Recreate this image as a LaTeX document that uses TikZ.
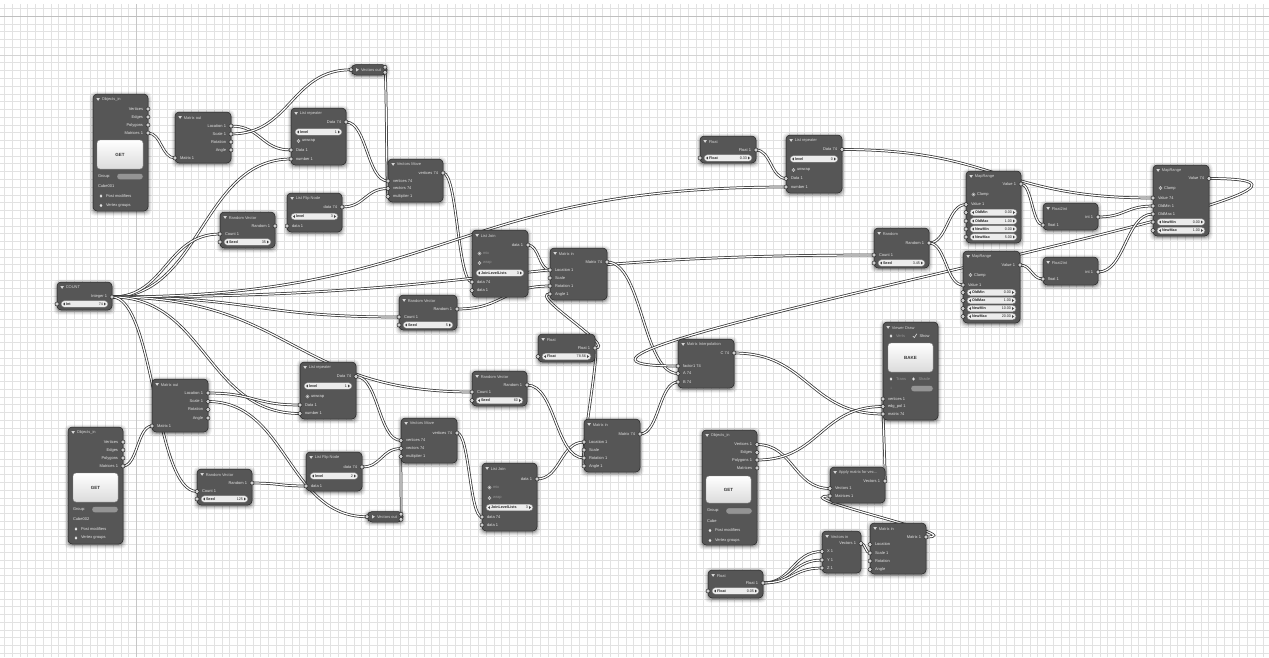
\documentclass[tikz,border=0pt]{standalone}
\usepackage{fontspec}
\setmainfont{Liberation Sans}
\usetikzlibrary{calc}
\definecolor{nodebg}{RGB}{86,86,86}
\definecolor{labelc}{RGB}{228,228,228}
\definecolor{titlec}{RGB}{212,212,212}
\definecolor{dimc}{RGB}{150,150,150}
\definecolor{pillc}{RGB}{236,236,236}
\definecolor{sockc}{RGB}{205,205,205}
\definecolor{gridc}{RGB}{226,226,226}
\pgfdeclarelayer{bg}\pgfdeclarelayer{lk}\pgfsetlayers{bg,lk,main}
\newcounter{tn}
\tikzset{
 nbody/.style={fill=nodebg,draw=black!85,line width=0.5pt,rounded corners=4pt,inner sep=0pt,outer sep=0pt},
 lbl/.style={text=labelc,font=\fontsize{4}{4.8}\selectfont,inner sep=0pt,outer sep=0pt},
 ttl/.style={lbl,text=titlec},
 dimlbl/.style={lbl,text=dimc},
 flab/.style={text=black!85,font=\fontsize{3.7}{4.4}\selectfont\bfseries,inner sep=0pt,outer sep=0pt},
 fval/.style={text=black!85,font=\fontsize{3.7}{4.4}\selectfont,inner sep=0pt,outer sep=0pt},
 pill/.style={fill=pillc,draw=black!60,line width=0.4pt,rounded corners=3.2pt},
 sock/.style={fill=sockc,draw=black!85,line width=0.5pt},
 link/.style={draw=black!80,line width=0.75pt,double=white,double distance=1.2pt},
 btn/.style={top color=white,bottom color=black!14,draw=black!45,line width=0.4pt,rounded corners=3pt},
 btntxt/.style={text=black!80,font=\fontsize{4.5}{5}\selectfont\bfseries,inner sep=0pt,outer sep=0pt},
 gfield/.style={fill=black!42,draw=black!70,line width=0.3pt,rounded corners=2.5pt},
 gridl/.style={draw=gridc,line width=0.5pt},
}
\newcommand\tx[5][lbl]{\stepcounter{tn}\node[#1,anchor=#2] (t\arabic{tn}) at ({#3},{#4}) {#5};}
\newcommand\sockat[2]{\filldraw[sock] ({#1},{#2}) circle (2pt);}
\newcommand\nodebox[6]{%
 \foreach \k/\o in {3.5/0.06,2.5/0.08,1.5/0.11,0.7/0.14}{%
   \fill[black,opacity=\o,rounded corners=5pt] ({#2-\k},{#3-\k+1.2}) rectangle ({#2+#4+\k},{#3+#5+\k+1.2});}
 \node[nbody,minimum width=#4pt,minimum height=#5pt,anchor=north west] (#1) at (#2,#3) {};
 \fill[titlec] ({#2+3.3},{#3+4}) -- ({#2+6.9},{#3+4}) -- ({#2+5.1},{#3+6.9}) -- cycle;
 \tx[ttl]{west}{#2+8.8}{#3+5.6}{#6}}
\newcommand\colnode[9]{%
 \foreach \k/\o in {3/0.06,2/0.08,1.2/0.11,0.5/0.14}{%
   \fill[black,opacity=\o,rounded corners=5pt] ({#2-\k},{#3-\k+1}) rectangle ({#2+#4+\k},{#3+#5+\k+1});}
 \node[nbody,rounded corners=5pt,minimum width=#4pt,minimum height=#5pt,anchor=north west] (#1) at (#2,#3) {};
 \fill[titlec] ({#2+5},{#3+#5/2-1.8}) -- ({#2+5},{#3+#5/2+1.8}) -- ({#2+7.8},{#3+#5/2}) -- cycle;
 \tx[ttl]{west}{#2+10}{#3+#5/2}{#6}
 \coordinate (#7) at ({#2},{#3+#5/2});
 \coordinate (#8) at ({#2+#4-2},{#3+#5/2-2.6});
 \coordinate (#9) at ({#2+#4-2},{#3+#5/2+2.6});
 \sockat{#2}{#3+#5/2}\sockat{#2+#4-2}{#3+#5/2-2.6}\sockat{#2+#4-2}{#3+#5/2+2.6}}
\newcommand\outrow[4]{\coordinate (#1) at (#2,#3); \tx{east}{#2-5}{#3}{#4}\sockat{#2}{#3}}
\newcommand\inrow[4]{\coordinate (#1) at (#2,#3); \tx{west}{#2+5}{#3}{#4}\sockat{#2}{#3}}
\newcommand\fieldbase[5]{%
 \draw[pill] ({#1+4},{#3-3.3}) rectangle ({#2-4},{#3+3.3});
 \fill[black!75] ({#1+6},{#3}) -- ({#1+7.8},{#3-1.3}) -- ({#1+7.8},{#3+1.3}) -- cycle;
 \fill[black!75] ({#2-6},{#3}) -- ({#2-7.8},{#3-1.3}) -- ({#2-7.8},{#3+1.3}) -- cycle;
 \tx[flab]{west}{#1+9}{#3}{#4}
 \tx[fval]{east}{#2-9}{#3}{#5}}
\newcommand\fieldrow[6]{\coordinate (#1) at (#2,#4); \fieldbase{#2}{#3}{#4}{#5}{#6}\sockat{#2}{#4}}
\newcommand\fieldnos[5]{\fieldbase{#1}{#2}{#3}{#4}{#5}}
\newcommand\chkrow[4][lbl]{%
 \filldraw[fill=black!70,draw=labelc,line width=0.35pt] ({#2+7.5},{#3}) circle (1.7pt);
 \fill[labelc] ({#2+7.5},{#3}) circle (0.6pt);
 \tx[#1]{west}{#2+11}{#3}{#4}}
\newcommand\btnbox[5]{\draw[btn] (#1,#2) rectangle (#3,#4); \tx[btntxt]{center}{(#1+#3)/2}{(#2+#4)/2}{#5}}
\newcommand\grouprow[3]{\tx{west}{#1+5}{#3}{Group:}\draw[gfield] ({#1+24},{#3-3}) rectangle ({#2-5},{#3+3});}
\newcommand\ptxt[3]{\tx{west}{#1}{#2}{#3}}
\newcommand\dia[2]{\fill[labelc] ({#1-1.4},{#2}) -- ({#1},{#2-1.6}) -- ({#1+1.4},{#2}) -- ({#1},{#2+1.6}) -- cycle;}
\newcommand\eyerow[3]{\dia{#1+8}{#2}\tx{west}{#1+13}{#2}{#3}}
\newcommand\wire[2]{\draw[link] let \p1=(#1), \p2=(#2), \n1={max(0.5*abs(\x2-\x1),0.5)} in (\p1) .. controls ({\x1+\n1*1pt},{\y1}) and ({\x2-\n1*1pt},{\y2}) .. (\p2);}

\begin{document}
\begin{tikzpicture}[x=1pt,y=-1pt]
\useasboundingbox (0,0) rectangle (1269,657);
\begin{pgfonlayer}{bg}
\fill[white] (0,0) rectangle (1269,657);
\foreach \i in {0,...,163} {\draw[gridl] ({4.3+\i*7.77},4) -- ({4.3+\i*7.77},657);}
\foreach \j in {0,...,83} {\draw[gridl] (0,{8.3+\j*7.77}) -- (1269,{8.3+\j*7.77});}
\draw[black!22,line width=0.6pt] (136.4,4) -- (136.4,657);
\draw[black!25,line width=0.6pt] (0,16.1) -- (1269,16.1);
\draw[black!17,line width=0.6pt] (0,54.9) -- (1269,54.9);
\end{pgfonlayer}

% ---------- top-left group ----------
\nodebox{ob1}{93}{94}{55}{117}{Objects\_in}
\outrow{ob1v}{148}{109}{Vertices}
\outrow{ob1e}{148}{117}{Edges}
\outrow{ob1p}{148}{125}{Polygons}
\outrow{ob1m}{148}{133}{Matrices 1}
\btnbox{97}{140}{143}{169}{GET}
\grouprow{93}{148}{176.5}
\ptxt{98}{186}{Cube001}
\eyerow{93}{196}{Post modifiers}
\eyerow{93}{205.5}{Vertex groups}

\nodebox{mo1}{175}{112}{56}{51}{Matrix out}
\outrow{mo1l}{231}{126}{Location 1}
\outrow{mo1s}{231}{134}{Scale 1}
\outrow{mo1r}{231}{142}{Rotation}
\outrow{mo1a}{231}{150}{Angle}
\inrow{mo1in}{175}{158}{Matrix 1}

\nodebox{lr1}{291}{108}{55}{57}{List repeater}
\outrow{lr1o}{346}{122}{Data 74}
\fieldnos{291}{346}{132}{level}{1}
\chkrow{291}{141}{unwrap}
\inrow{lr1d}{291}{150}{Data 1}
\inrow{lr1n}{291}{159}{number 1}

\colnode{vo1}{351}{64.5}{36}{10.5}{Vectors out}{vo1i}{vo1o}{vo1p}

\nodebox{vm1}{388}{159}{55}{43}{Vectors Move}
\outrow{vm1o}{443}{173}{vertices 74}
\inrow{vm1v}{388}{181}{vertices 74}
\inrow{vm1d}{388}{188.5}{vectors 74}
\inrow{vm1m}{388}{196.5}{multiplier 1}

\nodebox{lf1}{287}{193}{55}{39}{List Flip Node}
\outrow{lf1o}{342}{207}{data 74}
\fieldnos{287}{342}{216.5}{level}{3}
\inrow{lf1i}{287}{226}{data 1}

\nodebox{rv1}{220}{212}{55}{36}{Random Vector}
\outrow{rv1o}{275}{226}{Random 1}
\inrow{rv1c}{220}{234}{Count 1}
\fieldrow{rv1s}{220}{275}{242}{Seed}{35}

\nodebox{cnt}{57}{282}{55}{28}{COUNT}
\outrow{cnto}{112}{297}{Integer 1}
\fieldrow{cnti}{57}{112}{304}{Int}{74}

% ---------- middle ----------
\nodebox{lj1}{472}{230}{56}{67}{List Join}
\outrow{lj1o}{528}{245}{data 1}
\chkrow[dimlbl]{472}{253.5}{mix}
\chkrow[dimlbl]{472}{263}{wrap}
\fieldnos{472}{528}{273}{JoinLevelLists}{3}
\inrow{lj1a}{472}{282}{data 74}
\inrow{lj1b}{472}{290.5}{data 1}

\nodebox{mi1}{550}{248}{57}{52}{Matrix in}
\outrow{mi1o}{607}{262}{Matrix 74}
\inrow{mi1l}{550}{270}{Location 1}
\inrow{mi1s}{550}{278}{Scale}
\inrow{mi1r}{550}{286}{Rotation 1}
\inrow{mi1a}{550}{294}{Angle 1}

\nodebox{rv2}{399}{295}{58}{35}{Random Vector}
\outrow{rv2o}{457}{309}{Random 1}
\inrow{rv2c}{399}{317}{Count 1}
\fieldrow{rv2s}{399}{457}{325}{Seed}{5}

\nodebox{fl1}{538}{334}{57}{28}{Float}
\outrow{fl1o}{595}{348}{Float 1}
\fieldrow{fl1i}{538}{595}{356.5}{Float}{78.56}

\nodebox{rv3}{472}{371}{55}{35}{Random Vector}
\outrow{rv3o}{527}{385}{Random 1}
\inrow{rv3c}{472}{392}{Count 1}
\fieldrow{rv3s}{472}{527}{400.5}{Seed}{60}

\nodebox{vm2}{401}{418}{56}{45}{Vectors Move}
\outrow{vm2o}{457}{433}{vertices 74}
\inrow{vm2v}{401}{440.5}{vertices 74}
\inrow{vm2d}{401}{448.5}{vectors 74}
\inrow{vm2m}{401}{456.5}{multiplier 1}

\nodebox{lj2}{482}{463}{55}{68}{List Join}
\outrow{lj2o}{537}{479}{data 1}
\chkrow[dimlbl]{482}{487.5}{mix}
\chkrow[dimlbl]{482}{498}{wrap}
\fieldnos{482}{537}{507.5}{JoinLevelLists}{3}
\inrow{lj2a}{482}{517}{data 74}
\inrow{lj2b}{482}{525}{data 1}

\nodebox{mi2}{584}{419}{56}{53}{Matrix in}
\outrow{mi2o}{640}{434}{Matrix 74}
\inrow{mi2l}{584}{442}{Location 1}
\inrow{mi2s}{584}{450}{Scale}
\inrow{mi2r}{584}{458}{Rotation 1}
\inrow{mi2a}{584}{466}{Angle 1}

\nodebox{mip}{678}{339}{56}{49}{Matrix Interpolation}
\outrow{mipc}{734}{353}{C 74}
\inrow{mipf}{678}{366}{factor1 74}
\inrow{mipa}{678}{373.5}{A 74}
\inrow{mipb}{678}{382}{B 74}

% ---------- lower-left group ----------
\nodebox{ob2}{68}{427}{55}{117}{Objects\_in}
\outrow{ob2v}{123}{442}{Vertices}
\outrow{ob2e}{123}{450}{Edges}
\outrow{ob2p}{123}{458}{Polygons}
\outrow{ob2m}{123}{466}{Matrices 1}
\btnbox{73}{473}{118}{502}{GET}
\grouprow{68}{123}{509.5}
\ptxt{73}{519}{Cube002}
\eyerow{68}{529}{Post modifiers}
\eyerow{68}{538}{Vertex groups}

\nodebox{mo2}{152}{379}{56}{53}{Matrix out}
\outrow{mo2l}{208}{393}{Location 1}
\outrow{mo2s}{208}{401.5}{Scale 1}
\outrow{mo2r}{208}{409.5}{Rotation}
\outrow{mo2a}{208}{418}{Angle}
\inrow{mo2in}{152}{426}{Matrix 1}

\nodebox{rvl}{197}{469}{55}{36}{Random Vector}
\outrow{rvlo}{252}{483}{Random 1}
\inrow{rvlc}{197}{491.5}{Count 1}
\fieldrow{rvls}{197}{252}{499}{Seed}{125}

\nodebox{lr2}{300}{362}{56}{57}{List repeater}
\outrow{lr2o}{356}{376.5}{Data 74}
\fieldnos{300}{356}{386}{level}{1}
\chkrow{300}{396.5}{unwrap}
\inrow{lr2d}{300}{405}{Data 1}
\inrow{lr2n}{300}{413.5}{number 1}

\nodebox{lf2}{306}{452}{56}{39}{List Flip Node}
\outrow{lf2o}{362}{467}{data 74}
\fieldnos{306}{362}{476}{level}{2}
\inrow{lf2i}{306}{486}{data 1}

\colnode{vo2}{367}{511.5}{36}{10.5}{Vectors out}{vo2i}{vo2o}{vo2p}

% ---------- right side ----------
\nodebox{fl2}{700}{136}{56}{27}{Float}
\outrow{fl2o}{756}{150}{Float 1}
\fieldrow{fl2i}{700}{756}{158}{Float}{0.33}

\nodebox{lrt}{786}{135}{56}{58}{List repeater}
\outrow{lrto}{842}{149.5}{Data 74}
\fieldnos{786}{842}{159}{level}{0}
\chkrow{786}{170}{unwrap}
\inrow{lrtd}{786}{178.5}{Data 1}
\inrow{lrtn}{786}{187}{number 1}

\nodebox{rnd}{874}{228}{55}{40}{Random}
\outrow{rndo}{929}{243}{Random 1}
\inrow{rndc}{874}{255}{Count 1}
\fieldrow{rnds}{874}{929}{263}{Seed}{3.45}

\nodebox{mr1}{966}{171}{55}{72}{MapRange}
\outrow{mr1o}{1021}{184}{Value 1}
\chkrow{966}{194.5}{Clamp}
\inrow{mr1v}{966}{204.5}{Value 1}
\fieldrow{mr1a}{966}{1021}{212.5}{OldMin}{0.00}
\fieldrow{mr1b}{966}{1021}{221}{OldMax}{1.00}
\fieldrow{mr1c}{966}{1021}{229}{NewMin}{0.00}
\fieldrow{mr1d}{966}{1021}{237}{NewMax}{5.00}

\nodebox{mr2}{963}{251}{57}{72}{MapRange}
\outrow{mr2o}{1020}{265}{Value 1}
\chkrow{963}{275}{Clamp}
\inrow{mr2v}{963}{285}{Value 1}
\fieldrow{mr2a}{963}{1020}{292.5}{OldMin}{0.00}
\fieldrow{mr2b}{963}{1020}{300.5}{OldMax}{1.00}
\fieldrow{mr2c}{963}{1020}{308.5}{NewMin}{10.00}
\fieldrow{mr2d}{963}{1020}{316.5}{NewMax}{20.00}

\nodebox{fi1}{1043}{203}{55}{27}{Float2int}
\outrow{fi1o}{1098}{217}{int 1}
\inrow{fi1i}{1043}{225}{float 1}

\nodebox{fi2}{1043}{257}{55}{28}{Float2int}
\outrow{fi2o}{1098}{272}{int 1}
\inrow{fi2i}{1043}{279}{float 1}

\nodebox{mrf}{1153}{165}{56}{71}{MapRange}
\outrow{mrfo}{1209}{178.5}{Value 74}
\chkrow{1153}{188}{Clamp}
\inrow{mrfv}{1153}{198}{Value 74}
\inrow{mrfa}{1153}{206}{OldMin 1}
\inrow{mrfb}{1153}{214}{OldMax 1}
\fieldrow{mrfc}{1153}{1209}{222}{NewMin}{0.00}
\fieldrow{mrfd}{1153}{1209}{230.5}{NewMax}{1.00}

\nodebox{vd}{883}{322}{55}{98}{Viewer Draw}
\dia{891}{336}\tx[dimlbl]{west}{896}{336}{Verts}
\draw[labelc,line width=0.6pt] (912.8,336) -- (914.3,337.6) -- (916.8,333.8);
\tx{west}{919.5}{336}{Show}
\btnbox{888}{343}{933}{372}{BAKE}
\dia{891}{379}\tx[dimlbl]{west}{896}{379}{Trans}
\dia{913.5}{379}\tx[dimlbl]{west}{918.5}{379}{Shade}
\tx{west}{890.5}{388.5}{:}
\draw[gfield] (911,385.5) rectangle (933,391.5);
\inrow{vdv}{883}{399}{vertices 1}
\inrow{vde}{883}{406.5}{edg\_pol 1}
\inrow{vdm}{883}{414}{matrix 74}

\nodebox{ob3}{702}{430}{55}{115}{Objects\_in}
\outrow{ob3v}{757}{444.5}{Vertices 1}
\outrow{ob3e}{757}{452.5}{Edges}
\outrow{ob3p}{757}{460}{Polygons 1}
\outrow{ob3m}{757}{468}{Matrices}
\btnbox{706}{476}{751}{503}{GET}
\grouprow{702}{757}{511}
\ptxt{707}{521}{Cube}
\eyerow{702}{530.5}{Post modifiers}
\eyerow{702}{540.5}{Vertex groups}

\nodebox{am}{830}{467}{55}{36}{Apply matrix for vec...}
\outrow{amo}{885}{481}{Vectors 1}
\inrow{amv}{830}{488.5}{Vectors 1}
\inrow{amm}{830}{496}{Matrices 1}

\nodebox{vi}{822}{531}{39}{42}{Vectors in}
\outrow{vio}{861}{543.5}{Vectors 1}
\inrow{vix}{822}{551.5}{X 1}
\inrow{viy}{822}{560}{Y 1}
\inrow{viz}{822}{568}{Z 1}

\nodebox{mi3}{870}{523}{56}{51}{Matrix in}
\outrow{mi3o}{926}{537}{Matrix 1}
\inrow{mi3l}{870}{544.5}{Location}
\inrow{mi3s}{870}{553}{Scale 1}
\inrow{mi3r}{870}{561}{Rotation}
\inrow{mi3a}{870}{569.5}{Angle}

\nodebox{fl3}{708}{570}{55}{28}{Float}
\outrow{fl3o}{763}{583}{Float 1}
\fieldrow{fl3i}{708}{763}{591}{Float}{0.05}

% ---------- links ----------
\begin{pgfonlayer}{lk}
\wire{ob1m}{mo1in}
\wire{mo1l}{lr1d}
\wire{mo1s}{vo1i}
\wire{cnto}{lr1n}
\wire{cnto}{rv1c}
\wire{rv1o}{lf1i}
\wire{lr1o}{vm1v}
\wire{lf1o}{vm1d}
\wire{vo1p}{vm1m}
\wire{vm1o}{lj1a}
\wire{lj1o}{mi1l}
\wire{rv2o}{mi1r}
\wire{fl1o}{mi1a}
\wire{fl1o}{mi2a}
\wire{cnto}{rv2c}
\wire{cnto}{rndc}
\wire{cnto}{lrtn}
\wire{cnto}{rv3c}
\wire{cnto}{lr2n}
\wire{cnto}{rvlc}
\wire{ob2m}{mo2in}
\wire{mo2l}{lr2d}
\wire{mo2s}{vo2i}
\wire{rvlo}{lf2i}
\wire{lr2o}{vm2v}
\wire{lf2o}{vm2d}
\wire{vo2o}{vm2m}
\wire{vm2o}{lj2a}
\wire{lj2o}{mi2l}
\wire{rv3o}{mi2r}
\wire{mi1o}{mipa}
\wire{mi2o}{mipb}
\wire{mrfo}{mipf}
\wire{mipc}{vdm}
\wire{ob3v}{amv}
\wire{ob3p}{vde}
\wire{amo}{vdv}
\wire{mi3o}{amm}
\wire{vio}{mi3s}
\wire{fl3o}{vix}
\wire{fl3o}{viy}
\wire{fl3o}{viz}
\wire{fl2o}{lrtd}
\wire{lrto}{mrfv}
\wire{rndo}{mr1v}
\wire{rndo}{mr2v}
\wire{mr1o}{fi1i}
\wire{mr2o}{fi2i}
\wire{fi1o}{mrfa}
\wire{fi2o}{mrfb}
\end{pgfonlayer}
\end{tikzpicture}
\end{document}
